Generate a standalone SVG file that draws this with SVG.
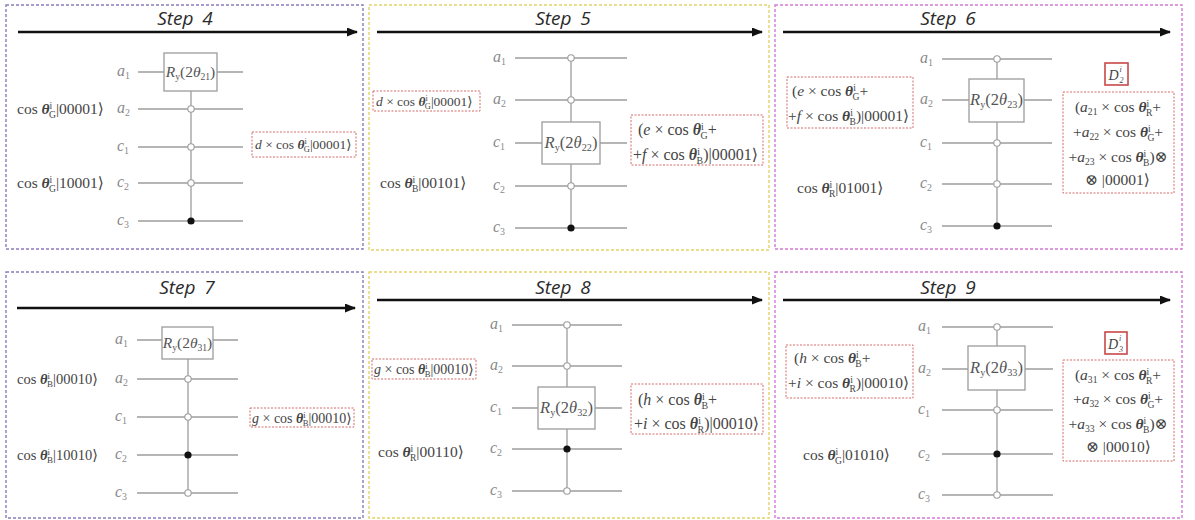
<svg xmlns="http://www.w3.org/2000/svg" width="1195" height="520" viewBox="0 0 1195 520">
<style>
.bg{fill:#fff}
.p1{fill:none;stroke:#8a7cbc;stroke-width:1.4;stroke-dasharray:3 2}
.p2{fill:none;stroke:#e2d468;stroke-width:1.4;stroke-dasharray:3 2}
.p3{fill:none;stroke:#d27ad2;stroke-width:1.4;stroke-dasharray:3 2}
.t{font-family:"Open Sans","DejaVu Sans",sans-serif;font-style:italic;font-size:19px;fill:#2a2a2a;text-anchor:middle;word-spacing:4px}
.ar{stroke:#111;stroke-width:2.4;fill:none}
.w{stroke:#9c9c9c;stroke-width:1.3;fill:none}
.g{fill:#fff;stroke:#9c9c9c;stroke-width:1.3}
.oc{fill:#fff;stroke:#9c9c9c;stroke-width:1.1}
.fc{fill:#111}
.rd{fill:#fff;stroke:#d46a6a;stroke-width:1;stroke-dasharray:2 1.5}
.rs{fill:#fff;stroke:#c94848;stroke-width:1.6}
.m{font-family:"Liberation Serif","DejaVu Serif",serif;fill:#444}
.lb{font-family:"Liberation Serif","DejaVu Serif",serif;fill:#8a8a8a;font-size:16px}
.gt{font-family:"Liberation Serif","DejaVu Serif",serif;fill:#555;text-anchor:middle}
.i{font-style:italic}
.th{font-style:italic;font-weight:bold}
.s{font-size:62%}
.c{text-anchor:middle}
.ds{font-family:"Liberation Serif","DejaVu Serif",serif;fill:#444;font-size:8px;font-style:italic}
</style>
<defs>
<marker id="ah" markerUnits="userSpaceOnUse" markerWidth="11" markerHeight="9" refX="10" refY="4.5" orient="auto">
<path d="M0,0 L11,4.5 L0,9 z" fill="#111"/>
</marker>
</defs>
<rect class="bg" x="0" y="0" width="1195" height="520"/>

<g id="panel-step4">
<rect class="p1" x="6" y="5" width="357" height="244"/>
<text class="t" x="185" y="25">Step 4</text>
<g id="wires-4">
<line class="w" x1="138" y1="72" x2="243" y2="72"/>
<line class="w" x1="138" y1="109" x2="243" y2="109"/>
<line class="w" x1="138" y1="147" x2="243" y2="147"/>
<line class="w" x1="138" y1="183" x2="243" y2="183"/>
<line class="w" x1="138" y1="221" x2="243" y2="221"/>
<line class="w" x1="191" y1="91" x2="191" y2="221"/>
</g>
<g id="labels-4">
<text class="lb" x="117" y="76"><tspan class="i">a</tspan><tspan class="s" dy="3">1</tspan></text>
<text class="lb" x="117" y="113"><tspan class="i">a</tspan><tspan class="s" dy="3">2</tspan></text>
<text class="lb" x="117" y="151"><tspan class="i">c</tspan><tspan class="s" dy="3">1</tspan></text>
<text class="lb" x="117" y="187"><tspan class="i">c</tspan><tspan class="s" dy="3">2</tspan></text>
<text class="lb" x="117" y="225"><tspan class="i">c</tspan><tspan class="s" dy="3">3</tspan></text>
</g>
<g id="gate-4">
<rect class="g" x="164" y="53" width="53" height="38"/>
<text class="gt" x="190.5" y="77" font-size="15.5"><tspan class="i">R</tspan><tspan class="s" dy="3">y</tspan><tspan dy="-3">(2</tspan><tspan class="i">θ</tspan><tspan class="s" dy="3">21</tspan><tspan dy="-3">)</tspan></text>
</g>
<g id="ctrl-4">
<circle class="oc" cx="191" cy="109" r="3.2"/>
<circle class="oc" cx="191" cy="147" r="3.2"/>
<circle class="oc" cx="191" cy="183" r="3.2"/>
<circle class="fc" cx="191" cy="221" r="3.6"/>
</g>
<g id="in-4a"><text class="m" x="17" y="114" font-size="15.5">cos <tspan class="th">θ</tspan><tspan class="s" dy="-5.5">i</tspan><tspan class="s" dx="-3.3" dy="9">G</tspan><tspan dy="-3.5">|00001⟩</tspan></text></g>
<g id="in-4b"><text class="m" x="17" y="188" font-size="15.5">cos <tspan class="th">θ</tspan><tspan class="s" dy="-5.5">i</tspan><tspan class="s" dx="-3.3" dy="9">G</tspan><tspan dy="-3.5">|10001⟩</tspan></text></g>
<g id="out-4">
<rect class="rd" x="252" y="132" width="104" height="25"/>
<text class="m" x="255" y="149" font-size="13.5"><tspan class="i">d</tspan> × cos <tspan class="th">θ</tspan><tspan class="s" dy="-5">i</tspan><tspan class="s" dx="-3" dy="8">G</tspan><tspan dy="-3">|00001⟩</tspan></text>
</g>
</g>

<g id="panel-step5">
<rect class="p2" x="369" y="5" width="400" height="245"/>
<text class="t" x="563" y="25">Step 5</text>
<g id="wires-5">
<line class="w" x1="515" y1="58" x2="627" y2="58"/>
<line class="w" x1="515" y1="100" x2="627" y2="100"/>
<line class="w" x1="515" y1="143" x2="627" y2="143"/>
<line class="w" x1="515" y1="186" x2="627" y2="186"/>
<line class="w" x1="515" y1="228" x2="627" y2="228"/>
<line class="w" x1="571" y1="58" x2="571" y2="228"/>
</g>
<g id="labels-5">
<text class="lb" x="493" y="62"><tspan class="i">a</tspan><tspan class="s" dy="3">1</tspan></text>
<text class="lb" x="493" y="104"><tspan class="i">a</tspan><tspan class="s" dy="3">2</tspan></text>
<text class="lb" x="493" y="147"><tspan class="i">c</tspan><tspan class="s" dy="3">1</tspan></text>
<text class="lb" x="493" y="190"><tspan class="i">c</tspan><tspan class="s" dy="3">2</tspan></text>
<text class="lb" x="493" y="232"><tspan class="i">c</tspan><tspan class="s" dy="3">3</tspan></text>
</g>
<g id="gate-5">
<rect class="g" x="542" y="122" width="58" height="42"/>
<text class="gt" x="571" y="148" font-size="16.5"><tspan class="i">R</tspan><tspan class="s" dy="3">y</tspan><tspan dy="-3">(2</tspan><tspan class="i">θ</tspan><tspan class="s" dy="3">22</tspan><tspan dy="-3">)</tspan></text>
</g>
<g id="ctrl-5">
<circle class="oc" cx="571" cy="58" r="3.2"/>
<circle class="oc" cx="571" cy="100" r="3.2"/>
<circle class="oc" cx="571" cy="186" r="3.2"/>
<circle class="fc" cx="571" cy="228" r="3.6"/>
</g>
<g id="in-5a">
<rect class="rd" x="373" y="91" width="107" height="20"/>
<text class="m" x="376" y="105.5" font-size="13.5"><tspan class="i">d</tspan> × cos <tspan class="th">θ</tspan><tspan class="s" dy="-5">i</tspan><tspan class="s" dx="-3" dy="8">G</tspan><tspan dy="-3">|00001⟩</tspan></text>
</g>
<g id="in-5b"><text class="m" x="380" y="188" font-size="15.5">cos <tspan class="th">θ</tspan><tspan class="s" dy="-5.5">i</tspan><tspan class="s" dx="-3.3" dy="9">B</tspan><tspan dy="-3.5">|00101⟩</tspan></text></g>
<g id="out-5">
<rect class="rd" x="631" y="115" width="132" height="50"/>
<text class="m" x="638" y="135" font-size="16">(<tspan class="i">e</tspan> × cos <tspan class="th">θ</tspan><tspan class="s" dy="-5.5">i</tspan><tspan class="s" dx="-3.3" dy="9">G</tspan><tspan dy="-3.5">+</tspan></text>
<text class="m" x="633" y="160" font-size="16">+<tspan class="i">f</tspan> × cos <tspan class="th">θ</tspan><tspan class="s" dy="-5.5">i</tspan><tspan class="s" dx="-3.3" dy="9">B</tspan><tspan dy="-3.5">)|00001⟩</tspan></text>
</g>
</g>

<g id="panel-step6">
<rect class="p3" x="775" y="5" width="407" height="244"/>
<text class="t" x="948" y="25">Step 6</text>
<g id="wires-6">
<line class="w" x1="942" y1="59" x2="1052" y2="59"/>
<line class="w" x1="942" y1="100" x2="1052" y2="100"/>
<line class="w" x1="942" y1="143" x2="1052" y2="143"/>
<line class="w" x1="942" y1="184" x2="1052" y2="184"/>
<line class="w" x1="942" y1="226" x2="1052" y2="226"/>
<line class="w" x1="997" y1="59" x2="997" y2="226"/>
</g>
<g id="labels-6">
<text class="lb" x="920" y="63"><tspan class="i">a</tspan><tspan class="s" dy="3">1</tspan></text>
<text class="lb" x="920" y="104"><tspan class="i">a</tspan><tspan class="s" dy="3">2</tspan></text>
<text class="lb" x="920" y="147"><tspan class="i">c</tspan><tspan class="s" dy="3">1</tspan></text>
<text class="lb" x="920" y="188"><tspan class="i">c</tspan><tspan class="s" dy="3">2</tspan></text>
<text class="lb" x="920" y="230"><tspan class="i">c</tspan><tspan class="s" dy="3">3</tspan></text>
</g>
<g id="gate-6">
<rect class="g" x="969" y="79" width="55" height="43"/>
<text class="gt" x="996.5" y="105" font-size="16.5"><tspan class="i">R</tspan><tspan class="s" dy="3">y</tspan><tspan dy="-3">(2</tspan><tspan class="i">θ</tspan><tspan class="s" dy="3">23</tspan><tspan dy="-3">)</tspan></text>
</g>
<g id="ctrl-6">
<circle class="oc" cx="997" cy="59" r="3.2"/>
<circle class="oc" cx="997" cy="143" r="3.2"/>
<circle class="oc" cx="997" cy="184" r="3.2"/>
<circle class="fc" cx="997" cy="226" r="3.6"/>
</g>
<g id="in-6a">
<rect class="rd" x="787" y="77" width="126" height="51"/>
<text class="m" x="792" y="96" font-size="15.5">(<tspan class="i">e</tspan> × cos <tspan class="th">θ</tspan><tspan class="s" dy="-5.5">i</tspan><tspan class="s" dx="-3.3" dy="9">G</tspan><tspan dy="-3.5">+</tspan></text>
<text class="m" x="788" y="121" font-size="15.5">+<tspan class="i">f</tspan> × cos <tspan class="th">θ</tspan><tspan class="s" dy="-5.5">i</tspan><tspan class="s" dx="-3.3" dy="9">B</tspan><tspan dy="-3.5">)|00001⟩</tspan></text>
</g>
<g id="in-6b"><text class="m" x="797" y="193" font-size="15.5">cos <tspan class="th">θ</tspan><tspan class="s" dy="-5.5">i</tspan><tspan class="s" dx="-3.3" dy="9">R</tspan><tspan dy="-3.5">|01001⟩</tspan></text></g>
<g id="d2">
<rect class="rs" x="1105" y="63" width="23" height="22"/>
<text class="m i" x="1108.5" y="80" font-size="14">D</text>
<text class="ds" x="1119.5" y="72">i</text>
<text class="ds" x="1119.5" y="82.5">2</text>
</g>
<g id="out-6">
<rect class="rd" x="1063" y="92" width="111" height="101"/>
<text class="m c" x="1118" y="112" font-size="15.5">(<tspan class="i">a</tspan><tspan class="s" dy="3">21</tspan><tspan dy="-3"> × cos </tspan><tspan class="th">θ</tspan><tspan class="s" dy="-5.5">i</tspan><tspan class="s" dx="-3.3" dy="9">R</tspan><tspan dy="-3.5">+</tspan></text>
<text class="m c" x="1118" y="137" font-size="15.5">+<tspan class="i">a</tspan><tspan class="s" dy="3">22</tspan><tspan dy="-3"> × cos </tspan><tspan class="th">θ</tspan><tspan class="s" dy="-5.5">i</tspan><tspan class="s" dx="-3.3" dy="9">G</tspan><tspan dy="-3.5">+</tspan></text>
<text class="m c" x="1118" y="162" font-size="15.5">+<tspan class="i">a</tspan><tspan class="s" dy="3">23</tspan><tspan dy="-3"> × cos </tspan><tspan class="th">θ</tspan><tspan class="s" dy="-5.5">i</tspan><tspan class="s" dx="-3.3" dy="9">B</tspan><tspan dy="-3.5">)⊗</tspan></text>
<text class="m" x="1085" y="185" font-size="15.5">⊗ |00001⟩</text>
</g>
</g>

<g id="panel-step7">
<rect class="p1" x="6" y="272" width="357" height="246"/>
<text class="t" x="187" y="294">Step 7</text>
<g id="wires-7">
<line class="w" x1="137" y1="340" x2="238" y2="340"/>
<line class="w" x1="137" y1="379" x2="238" y2="379"/>
<line class="w" x1="137" y1="417" x2="238" y2="417"/>
<line class="w" x1="137" y1="455" x2="238" y2="455"/>
<line class="w" x1="137" y1="493" x2="238" y2="493"/>
<line class="w" x1="188" y1="359" x2="188" y2="493"/>
</g>
<g id="labels-7">
<text class="lb" x="115" y="344"><tspan class="i">a</tspan><tspan class="s" dy="3">1</tspan></text>
<text class="lb" x="115" y="383"><tspan class="i">a</tspan><tspan class="s" dy="3">2</tspan></text>
<text class="lb" x="115" y="421"><tspan class="i">c</tspan><tspan class="s" dy="3">1</tspan></text>
<text class="lb" x="115" y="459"><tspan class="i">c</tspan><tspan class="s" dy="3">2</tspan></text>
<text class="lb" x="115" y="497"><tspan class="i">c</tspan><tspan class="s" dy="3">3</tspan></text>
</g>
<g id="gate-7">
<rect class="g" x="162" y="327" width="51" height="32"/>
<text class="gt" x="187.5" y="348" font-size="15.5"><tspan class="i">R</tspan><tspan class="s" dy="3">y</tspan><tspan dy="-3">(2</tspan><tspan class="i">θ</tspan><tspan class="s" dy="3">31</tspan><tspan dy="-3">)</tspan></text>
</g>
<g id="ctrl-7">
<circle class="oc" cx="188" cy="379" r="3.2"/>
<circle class="oc" cx="188" cy="417" r="3.2"/>
<circle class="fc" cx="188" cy="455" r="3.6"/>
<circle class="oc" cx="188" cy="493" r="3.2"/>
</g>
<g id="in-7a"><text class="m" x="17" y="383.5" font-size="14.5">cos <tspan class="th">θ</tspan><tspan class="s" dy="-5">i</tspan><tspan class="s" dx="-3" dy="8.5">B</tspan><tspan dy="-3.5">|00010⟩</tspan></text></g>
<g id="in-7b"><text class="m" x="17" y="459.5" font-size="14.5">cos <tspan class="th">θ</tspan><tspan class="s" dy="-5">i</tspan><tspan class="s" dx="-3" dy="8.5">B</tspan><tspan dy="-3.5">|10010⟩</tspan></text></g>
<g id="out-7">
<rect class="rd" x="250" y="408" width="104" height="19"/>
<text class="m" x="252" y="422.5" font-size="14"><tspan class="i">g</tspan> × cos <tspan class="th">θ</tspan><tspan class="s" dy="-5">i</tspan><tspan class="s" dx="-3" dy="8">B</tspan><tspan dy="-3">|00010⟩</tspan></text>
</g>
</g>

<g id="panel-step8">
<rect class="p2" x="369" y="272" width="400" height="246"/>
<text class="t" x="563" y="294">Step 8</text>
<g id="wires-8">
<line class="w" x1="512" y1="325" x2="622" y2="325"/>
<line class="w" x1="512" y1="366" x2="622" y2="366"/>
<line class="w" x1="512" y1="408" x2="622" y2="408"/>
<line class="w" x1="512" y1="449" x2="622" y2="449"/>
<line class="w" x1="512" y1="491" x2="622" y2="491"/>
<line class="w" x1="567" y1="325" x2="567" y2="491"/>
</g>
<g id="labels-8">
<text class="lb" x="490" y="329"><tspan class="i">a</tspan><tspan class="s" dy="3">1</tspan></text>
<text class="lb" x="490" y="370"><tspan class="i">a</tspan><tspan class="s" dy="3">2</tspan></text>
<text class="lb" x="490" y="412"><tspan class="i">c</tspan><tspan class="s" dy="3">1</tspan></text>
<text class="lb" x="490" y="453"><tspan class="i">c</tspan><tspan class="s" dy="3">2</tspan></text>
<text class="lb" x="490" y="495"><tspan class="i">c</tspan><tspan class="s" dy="3">3</tspan></text>
</g>
<g id="gate-8">
<rect class="g" x="538" y="387" width="57" height="42"/>
<text class="gt" x="566.5" y="413" font-size="16.5"><tspan class="i">R</tspan><tspan class="s" dy="3">y</tspan><tspan dy="-3">(2</tspan><tspan class="i">θ</tspan><tspan class="s" dy="3">32</tspan><tspan dy="-3">)</tspan></text>
</g>
<g id="ctrl-8">
<circle class="oc" cx="567" cy="325" r="3.2"/>
<circle class="oc" cx="567" cy="366" r="3.2"/>
<circle class="fc" cx="567" cy="449" r="3.6"/>
<circle class="oc" cx="567" cy="491" r="3.2"/>
</g>
<g id="in-8a">
<rect class="rd" x="372" y="359" width="104" height="20"/>
<text class="m" x="374" y="373.5" font-size="14"><tspan class="i">g</tspan> × cos <tspan class="th">θ</tspan><tspan class="s" dy="-5">i</tspan><tspan class="s" dx="-3" dy="8">B</tspan><tspan dy="-3">|00010⟩</tspan></text>
</g>
<g id="in-8b"><text class="m" x="378" y="457" font-size="15.5">cos <tspan class="th">θ</tspan><tspan class="s" dy="-5.5">i</tspan><tspan class="s" dx="-3.3" dy="9">R</tspan><tspan dy="-3.5">|00110⟩</tspan></text></g>
<g id="out-8">
<rect class="rd" x="631" y="384" width="132" height="50"/>
<text class="m" x="638" y="405" font-size="16">(<tspan class="i">h</tspan> × cos <tspan class="th">θ</tspan><tspan class="s" dy="-5.5">i</tspan><tspan class="s" dx="-3.3" dy="9">B</tspan><tspan dy="-3.5">+</tspan></text>
<text class="m" x="634" y="429" font-size="16">+<tspan class="i">i</tspan> × cos <tspan class="th">θ</tspan><tspan class="s" dy="-5.5">i</tspan><tspan class="s" dx="-3.3" dy="9">R</tspan><tspan dy="-3.5">)|00010⟩</tspan></text>
</g>
</g>

<g id="panel-step9">
<rect class="p3" x="775" y="272" width="407" height="246"/>
<text class="t" x="948" y="294">Step 9</text>
<g id="wires-9">
<line class="w" x1="942" y1="327" x2="1053" y2="327"/>
<line class="w" x1="942" y1="369" x2="1053" y2="369"/>
<line class="w" x1="942" y1="410" x2="1053" y2="410"/>
<line class="w" x1="942" y1="454" x2="1053" y2="454"/>
<line class="w" x1="942" y1="495" x2="1053" y2="495"/>
<line class="w" x1="997" y1="327" x2="997" y2="495"/>
</g>
<g id="labels-9">
<text class="lb" x="918" y="331"><tspan class="i">a</tspan><tspan class="s" dy="3">1</tspan></text>
<text class="lb" x="918" y="373"><tspan class="i">a</tspan><tspan class="s" dy="3">2</tspan></text>
<text class="lb" x="918" y="414"><tspan class="i">c</tspan><tspan class="s" dy="3">1</tspan></text>
<text class="lb" x="918" y="458"><tspan class="i">c</tspan><tspan class="s" dy="3">2</tspan></text>
<text class="lb" x="918" y="499"><tspan class="i">c</tspan><tspan class="s" dy="3">3</tspan></text>
</g>
<g id="gate-9">
<rect class="g" x="968" y="346" width="57" height="44"/>
<text class="gt" x="996.5" y="373" font-size="16.5"><tspan class="i">R</tspan><tspan class="s" dy="3">y</tspan><tspan dy="-3">(2</tspan><tspan class="i">θ</tspan><tspan class="s" dy="3">33</tspan><tspan dy="-3">)</tspan></text>
</g>
<g id="ctrl-9">
<circle class="oc" cx="997" cy="327" r="3.2"/>
<circle class="oc" cx="997" cy="410" r="3.2"/>
<circle class="fc" cx="997" cy="454" r="3.6"/>
<circle class="oc" cx="997" cy="495" r="3.2"/>
</g>
<g id="in-9a">
<rect class="rd" x="786" y="345" width="127" height="53"/>
<text class="m" x="794" y="363" font-size="15.5">(<tspan class="i">h</tspan> × cos <tspan class="th">θ</tspan><tspan class="s" dy="-5.5">i</tspan><tspan class="s" dx="-3.3" dy="9">B</tspan><tspan dy="-3.5">+</tspan></text>
<text class="m" x="788" y="388" font-size="15.5">+<tspan class="i">i</tspan> × cos <tspan class="th">θ</tspan><tspan class="s" dy="-5.5">i</tspan><tspan class="s" dx="-3.3" dy="9">R</tspan><tspan dy="-3.5">)|00010⟩</tspan></text>
</g>
<g id="in-9b"><text class="m" x="803" y="460" font-size="15.5">cos <tspan class="th">θ</tspan><tspan class="s" dy="-5.5">i</tspan><tspan class="s" dx="-3.3" dy="9">G</tspan><tspan dy="-3.5">|01010⟩</tspan></text></g>
<g id="d3">
<rect class="rs" x="1105" y="332" width="22" height="22"/>
<text class="m i" x="1108" y="349" font-size="14">D</text>
<text class="ds" x="1119" y="341">i</text>
<text class="ds" x="1119" y="351.5">3</text>
</g>
<g id="out-9">
<rect class="rd" x="1063" y="360" width="111" height="101"/>
<text class="m c" x="1118" y="380" font-size="15.5">(<tspan class="i">a</tspan><tspan class="s" dy="3">31</tspan><tspan dy="-3"> × cos </tspan><tspan class="th">θ</tspan><tspan class="s" dy="-5.5">i</tspan><tspan class="s" dx="-3.3" dy="9">R</tspan><tspan dy="-3.5">+</tspan></text>
<text class="m c" x="1118" y="404" font-size="15.5">+<tspan class="i">a</tspan><tspan class="s" dy="3">32</tspan><tspan dy="-3"> × cos </tspan><tspan class="th">θ</tspan><tspan class="s" dy="-5.5">i</tspan><tspan class="s" dx="-3.3" dy="9">G</tspan><tspan dy="-3.5">+</tspan></text>
<text class="m c" x="1118" y="429" font-size="15.5">+<tspan class="i">a</tspan><tspan class="s" dy="3">33</tspan><tspan dy="-3"> × cos </tspan><tspan class="th">θ</tspan><tspan class="s" dy="-5.5">i</tspan><tspan class="s" dx="-3.3" dy="9">B</tspan><tspan dy="-3.5">)⊗</tspan></text>
<text class="m" x="1086" y="452" font-size="15.5">⊗ |00010⟩</text>
</g>
</g>

<g id="connectors">
<line class="ar" x1="18" y1="32" x2="357" y2="32" marker-end="url(#ah)"/>
<line class="ar" x1="377" y1="32" x2="762" y2="32" marker-end="url(#ah)"/>
<line class="ar" x1="783" y1="32" x2="1170" y2="32" marker-end="url(#ah)"/>
<line class="ar" x1="17" y1="308" x2="355" y2="308" marker-end="url(#ah)"/>
<line class="ar" x1="377" y1="300" x2="762" y2="300" marker-end="url(#ah)"/>
<line class="ar" x1="783" y1="300" x2="1170" y2="300" marker-end="url(#ah)"/>
</g>
</svg>
